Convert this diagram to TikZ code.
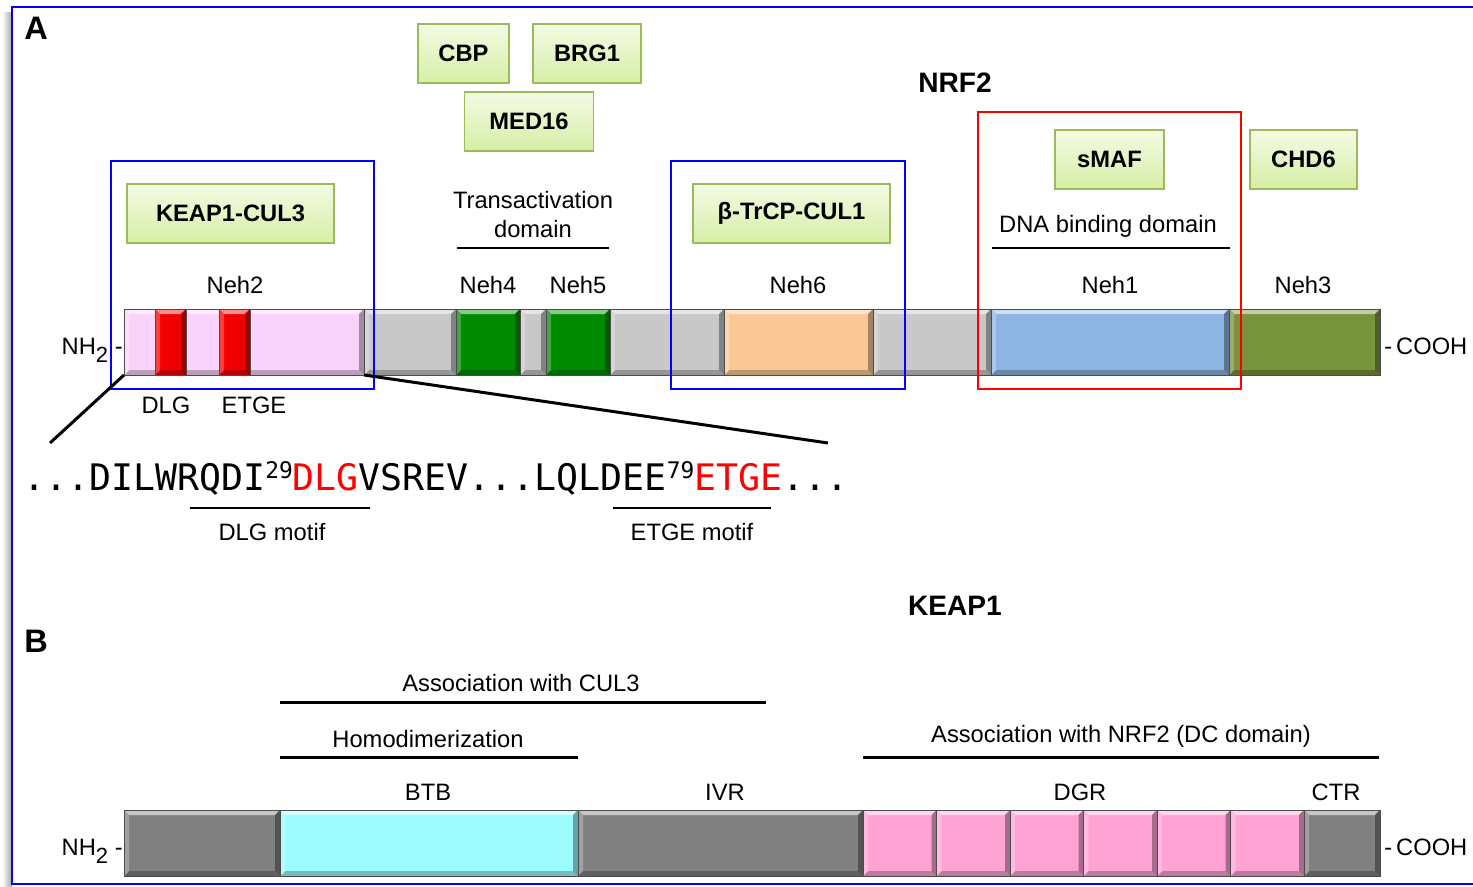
\documentclass[tikz,border=0pt]{standalone}
\usepackage{fontspec}
\setmainfont{Liberation Sans}
\setmonofont{DejaVu Sans Mono}
\usetikzlibrary{calc}
\definecolor{frameblue}{HTML}{0000FF}
\definecolor{boxgreen}{HTML}{9BBB59}
\definecolor{boxtop}{HTML}{F4FBE4}
\definecolor{boxbottom}{HTML}{D5EEA6}
\definecolor{neh2pink}{HTML}{FAD3FA}
\definecolor{motifred}{HTML}{F20000}
\definecolor{linkgray}{HTML}{C8C8C8}
\definecolor{tadgreen}{HTML}{008A00}
\definecolor{neh6orange}{HTML}{FAC896}
\definecolor{neh1blue}{HTML}{8DB4E2}
\definecolor{neh3olive}{HTML}{77933C}
\definecolor{keapgray}{HTML}{808080}
\definecolor{btbcyan}{HTML}{9CFBFC}
\definecolor{dgrpink}{HTML}{FFA3D5}

\newcommand{\px}{0.02cm}
% beveled domain: x1, x2, y1 (top), y2 (bottom), colour
\newcommand{\nehdomain}[5]{%
  \fill[#5] ({#1},{#3}) rectangle ({#2},{#4});
  \fill[#5!45!white] ({#1},{#3}) -- ({#2},{#3}) -- ({#2-5},{#3+5}) -- ({#1+5},{#3+5}) -- cycle;
  \fill[#5!75!black] ({#1},{#4}) -- ({#2},{#4}) -- ({#2-5},{#4-5}) -- ({#1+5},{#4-5}) -- cycle;
  \fill[#5!75!white] ({#1},{#3}) -- ({#1+5},{#3+5}) -- ({#1+5},{#4-5}) -- ({#1},{#4}) -- cycle;
  \fill[#5!65!black] ({#2},{#3}) -- ({#2-5},{#3+5}) -- ({#2-5},{#4-5}) -- ({#2},{#4}) -- cycle;
  \draw[black!70, line width=0.4pt] ({#1},{#3}) rectangle ({#2},{#4});
}
\newcommand{\sups}[1]{\raisebox{0.24cm}{\fontsize{13}{13}\selectfont #1}}

\begin{document}
\begin{tikzpicture}[
    x=\px, y=-\px,
    lbl/.style={font=\fontsize{13.5}{16}\selectfont, anchor=base, inner sep=0pt},
    boxlbl/.style={draw=boxgreen, line width=1.1pt, top color=boxtop, bottom color=boxbottom,
                   font=\fontsize{13.5}{16}\selectfont\bfseries, minimum height=59*\px, inner sep=0pt},
    title/.style={font=\fontsize{16}{18}\selectfont\bfseries, anchor=base, inner sep=0pt},
    panel/.style={font=\fontsize{18.5}{20}\selectfont\bfseries, inner sep=0pt},
    regionbox/.style={line width=1.2pt},
    underline/.style={line width=1.7pt},
    zoomline/.style={line width=1.7pt},
    seqtxt/.style={font=\fontsize{20.8}{22}\selectfont\ttfamily, anchor=base west, inner sep=0pt}
]
\useasboundingbox (0,0) rectangle (1473,886);

% Rahmen mit Schatten links
\shade[left color=white, right color=black!35] (2,12) rectangle (12,886);
\draw[frameblue, line width=1.2pt] (12,7) rectangle (1490,884);

% ===== A: NRF2 =====
\node[panel] (labA) at (36,28) {A};
\node[title] (nrf2) at (955,92) {NRF2};

% Bindungspartner
\node[boxlbl, minimum width=91*\px]  (cbp)   at (463.5,53.5)  {CBP};
\node[boxlbl, minimum width=108*\px] (brg1)  at (587,53.5)    {BRG1};
\node[boxlbl, minimum width=129*\px] (med16) at (529,121.5)   {MED16};
\node[boxlbl, minimum width=207*\px] (keapcul) at (230.5,213.5) {KEAP1-CUL3};
\node[boxlbl, minimum width=197*\px] (btrcp) at (791.5,213.5) {β-TrCP-CUL1};
\node[boxlbl, minimum width=109*\px] (smaf)  at (1109.5,159.5) {sMAF};
\node[boxlbl, minimum width=107*\px] (chd6)  at (1303.5,159.5) {CHD6};

% Domänen-Beschriftung
\node[lbl] (tad) at (533,208) {Transactivation};
\node[lbl] (tad2) at (533,237) {domain};
\draw[underline] (457,248) -- (609,248);
\node[lbl] (dbd) at (1108,232) {DNA binding domain};
\draw[underline] (992,248) -- (1230,248);

\node[lbl] (lneh2) at (235,293) {Neh2};
\node[lbl] (lneh4) at (488,293) {Neh4};
\node[lbl] (lneh5) at (578,293) {Neh5};
\node[lbl] (lneh6) at (798,293) {Neh6};
\node[lbl] (lneh1) at (1110,293) {Neh1};
\node[lbl] (lneh3) at (1303,293) {Neh3};

% Balken NRF2
\nehdomain{124}{364}{309}{375}{neh2pink}
\nehdomain{155}{186}{309}{375}{motifred}
\nehdomain{219}{250}{309}{375}{motifred}
\nehdomain{364}{456}{309}{375}{linkgray}
\nehdomain{456}{520}{309}{375}{tadgreen}
\nehdomain{520}{546}{309}{375}{linkgray}
\nehdomain{546}{610}{309}{375}{tadgreen}
\nehdomain{610}{724}{309}{375}{linkgray}
\nehdomain{724}{873}{309}{375}{neh6orange}
\nehdomain{873}{991}{309}{375}{linkgray}
\nehdomain{991}{1229}{309}{375}{neh1blue}
\nehdomain{1229}{1380}{309}{375}{neh3olive}

\node[lbl, anchor=base east] (nh2a) at (123,354) {NH\raisebox{-0.16cm}{\fontsize{12.5}{12}\selectfont 2} -};
\node[lbl, anchor=base west] (cooha) at (1384,354) {-\,COOH};

% Rahmen um Bindungsregionen
\draw[frameblue, regionbox] (111,161) rectangle (374,389);
\draw[frameblue, regionbox] (671,161) rectangle (905,389);
\draw[red, regionbox] (978,112) rectangle (1241,389);

\node[lbl] (ldlg)  at (166,413) {DLG};
\node[lbl] (letge) at (254,413) {ETGE};

% Sequenzausschnitt
\coordinate (neh2bl) at (124,375);
\coordinate (neh2br) at (364,375);
\coordinate (seqL) at (50,443);
\coordinate (seqR) at (828,443);
\draw[zoomline] (neh2bl) -- (seqL);
\draw[zoomline] (neh2br) -- (seqR);

\node[seqtxt] (seq) at (23,490) {...DILWRQDI\sups{29}\textcolor{red}{DLG}VSREV...LQLDEE\sups{79}\textcolor{red}{ETGE}...};
\draw[line width=1.3pt] (190,508) -- (370,508);
\draw[line width=1.3pt] (613,508) -- (771,508);
\node[lbl] (dlgmotif)  at (272,540) {DLG motif};
\node[lbl] (etgemotif) at (692,540) {ETGE motif};

% ===== B: KEAP1 =====
\node[panel] (labB) at (36,641) {B};
\node[title] (keap1) at (955,615) {KEAP1};

\node[lbl] (cul3) at (521,691) {Association with CUL3};
\draw[underline] (280,702) -- (766,702);
\node[lbl] (homodim) at (428,747) {Homodimerization};
\draw[underline] (280,757) -- (578,757);
\node[lbl] (dcdom) at (1121,742) {Association with NRF2 (DC domain)};
\draw[underline] (863,757) -- (1379,757);

\node[lbl] (lbtb) at (428,800) {BTB};
\node[lbl] (livr) at (725,800) {IVR};
\node[lbl] (ldgr) at (1080,800) {DGR};
\node[lbl] (lctr) at (1336,800) {CTR};

% Balken KEAP1
\nehdomain{124}{280}{810}{876}{keapgray}
\nehdomain{280}{578}{810}{876}{btbcyan}
\nehdomain{578}{863}{810}{876}{keapgray}
\foreach \i in {0,...,5} {
    \nehdomain{863+73.5*\i}{863+73.5*(\i+1)}{810}{876}{dgrpink}
}
\nehdomain{1304}{1380}{810}{876}{keapgray}

\node[lbl, anchor=base east] (nh2b) at (123,855) {NH\raisebox{-0.16cm}{\fontsize{12.5}{12}\selectfont 2} -};
\node[lbl, anchor=base west] (coohb) at (1384,855) {-\,COOH};

\end{tikzpicture}
\end{document}
